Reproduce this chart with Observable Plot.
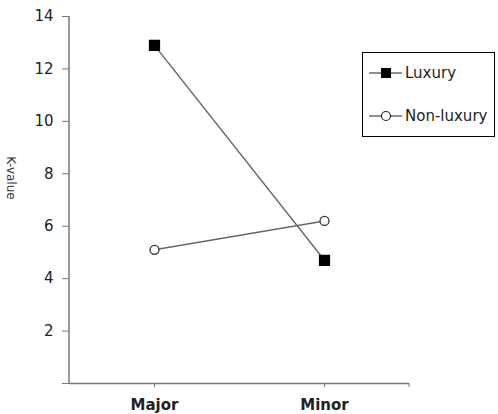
<!DOCTYPE html>
<html>
<head>
<meta charset="utf-8">
<script src="https://cdn.jsdelivr.net/npm/d3@7"></script>
<script src="https://cdn.jsdelivr.net/npm/@observablehq/plot@0.6"></script>
<style>
  html, body { margin: 0; padding: 0; background: #fff; }
  #wrap { position: relative; width: 498px; height: 414px; }
  #legend { position: absolute; left: 362px; top: 52px; }
</style>
</head>
<body>
<div id="wrap"></div>
<script>
const categories = ["Major", "Minor"];
const seriesNames = ["Luxury", "Non-luxury"];
const luxury = [12.9, 4.7];
const nonLuxury = [5.1, 6.2];
const yTicks = [0, 2, 4, 6, 8, 10, 12, 14];
const yLabel = "K-value";

const seriesValues = [luxury, nonLuxury];
const data = seriesNames.flatMap((s, i) =>
  categories.map((c, j) => ({ series: s, cat: c, value: seriesValues[i][j] }))
);
const styles = {
  "Luxury": { symbol: "square", r: 5.6, fill: "#000", stroke: "#000" },
  "Non-luxury": { symbol: "circle", r: 4.5, fill: "#fff", stroke: "#333" }
};
const font = "'DejaVu Sans', Verdana, sans-serif";

const chart = Plot.plot({
  width: 498,
  height: 414,
  marginLeft: 69,
  marginRight: 89,
  marginTop: 16,
  marginBottom: 31,
  style: { fontFamily: font, fontSize: "15px", color: "#222", background: "#fff" },
  x: { type: "point", domain: categories, padding: 0.5, label: null },
  y: { domain: [0, 14], label: null },
  marks: [
    Plot.ruleY([0], { stroke: "#777", strokeWidth: 1.5 }),
    Plot.axisY({ ticks: yTicks, tickFormat: d => d === 0 ? "" : String(d), tickSize: 7, tickPadding: 9, stroke: "#777", fill: "#222", fontSize: 15, label: null }),
    Plot.axisX({ tickSize: 4, tickPadding: 12, stroke: "#777", fill: "#222", fontWeight: "bold", fontSize: 15, label: null }),
    ...seriesNames.map(s => Plot.line(data.filter(d => d.series === s), { x: "cat", y: "value", stroke: "#666", strokeWidth: 1.4 })),
    ...seriesNames.map(s => Plot.dot(data.filter(d => d.series === s), { x: "cat", y: "value", symbol: styles[s].symbol, r: styles[s].r, fill: styles[s].fill, stroke: styles[s].stroke, strokeWidth: 1.3 }))
  ]
});

const svg = d3.select(chart);
document.getElementById("wrap").appendChild(chart);
// y axis line and end tick of x axis
svg.append("line")
  .attr("x1", 69).attr("x2", 69).attr("y1", 16).attr("y2", 383)
  .attr("stroke", "#777").attr("stroke-width", 1.5);
svg.append("line")
  .attr("x1", 409).attr("x2", 409).attr("y1", 383).attr("y2", 387)
  .attr("stroke", "#777").attr("stroke-width", 1);
// y axis title, rotated clockwise
svg.append("text")
  .attr("transform", "translate(11,178) rotate(90)")
  .attr("text-anchor", "middle").attr("dy", "0.35em")
  .attr("font-family", font).attr("font-size", 12).attr("fill", "#333")
  .text(yLabel);

// legend
const legend = d3.select("#wrap").append("svg")
  .attr("id", "legend").attr("width", 134).attr("height", 86);
legend.append("rect").attr("x", 0.5).attr("y", 0.5).attr("width", 132).attr("height", 84)
  .attr("fill", "#fff").attr("stroke", "#000").attr("stroke-width", 1);
seriesNames.forEach((s, i) => {
  const y = 21 + i * 43;
  const g = legend.append("g");
  g.append("line").attr("x1", 7).attr("x2", 40).attr("y1", y).attr("y2", y).attr("stroke", "#222").attr("stroke-width", 1.2);
  if (styles[s].symbol === "square") {
    g.append("rect").attr("x", 19).attr("y", y - 5).attr("width", 10).attr("height", 10).attr("fill", "#000");
  } else {
    g.append("circle").attr("cx", 24).attr("cy", y).attr("r", 4.5).attr("fill", "#fff").attr("stroke", "#222").attr("stroke-width", 1.2);
  }
  g.append("text").attr("x", 43).attr("y", y).attr("dy", "0.35em")
    .attr("font-family", font).attr("font-size", 15).attr("fill", "#222").text(s);
});
</script>
</body>
</html>
